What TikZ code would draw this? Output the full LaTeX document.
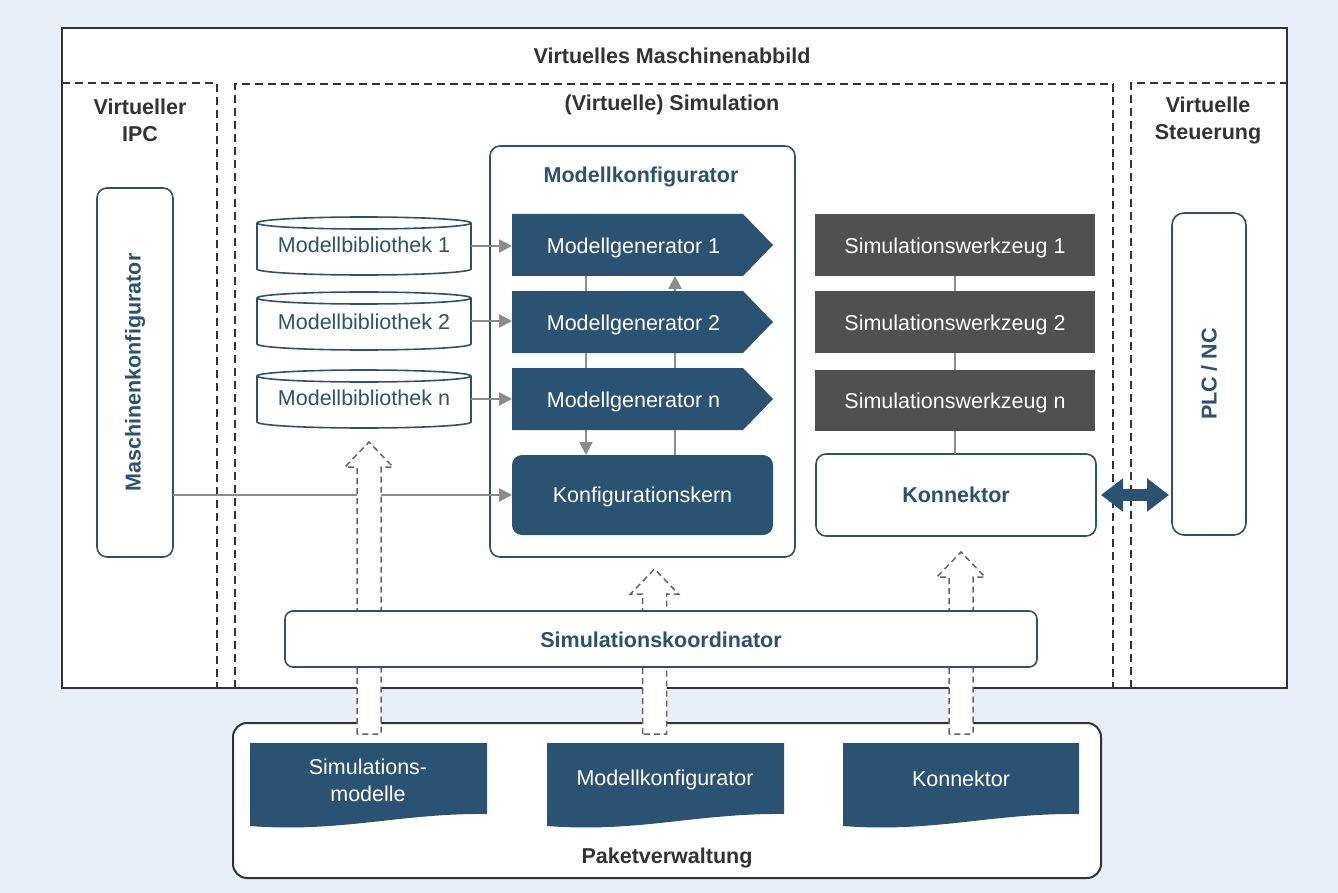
\documentclass[tikz,border=0pt]{standalone}
\usepackage{fontspec}
\setmainfont{Liberation Sans}
\usetikzlibrary{arrows.meta,calc}
\definecolor{dblue}{RGB}{42,82,115}
\definecolor{bgblue}{RGB}{232,239,249}
\definecolor{dgray}{RGB}{51,51,51}
\definecolor{boxgray}{RGB}{80,80,80}
\definecolor{lgray}{RGB}{140,140,140}
\definecolor{dashgray}{RGB}{100,100,100}
\newcommand{\harrowat}[3]{\draw[harrow] ({#1-12},#3) -- ({#1-12},{#2+25}) -- ({#1-24},{#2+25}) -- (#1,#2) -- ({#1+24},{#2+25}) -- ({#1+12},{#2+25}) -- ({#1+12},#3) -- cycle;}
\newcommand{\docshape}[2]{\fill[dblue] (#1,743) -- (#2,743) -- (#2,814) .. controls ({#2-87},813) and ({#1+90},833) .. (#1,826) -- cycle;}
\newcommand{\cylshape}[1]{%
  \draw[draw=dblue, line width=1.6pt, fill=white]
    ($(#1.north west)+(0,6)$) -- ($(#1.south west)+(0,-6)$)
    arc[start angle=180, end angle=0, x radius=107, y radius=6]
    -- ($(#1.north east)+(0,6)$)
    arc[start angle=0, end angle=-180, x radius=107, y radius=6] -- cycle;
  \draw[draw=dblue, line width=1.6pt] ($(#1.north west)+(0,6)$)
    arc[start angle=180, end angle=0, x radius=107, y radius=6];}
\newcommand{\genshape}[1]{\fill[dblue] (#1.north west) -- ($(#1.north west)+(231,0)$) -- ($(#1.west)+(261,0)$) -- ($(#1.south west)+(231,0)$) -- (#1.south west) -- cycle;}
\begin{document}
\begin{tikzpicture}[x=1pt,y=-1pt,
  every node/.style={inner sep=0pt, outer sep=0pt, font=\fontsize{21.5}{27}\selectfont},
  sect/.style={draw=dgray, line width=2pt, dash pattern=on 8pt off 5pt},
  ttl/.style={text=dgray, font=\fontsize{21.5}{27}\selectfont\bfseries, align=center},
  btxt/.style={text=dblue, font=\fontsize{21.5}{27}\selectfont\bfseries},
  bluebox/.style={draw=dblue, line width=1.6pt, fill=white, rounded corners=10pt},
  genbox/.style={minimum width=243pt, minimum height=62pt, text=white},
  toolbox/.style={fill=boxgray, minimum width=280pt, minimum height=62pt},
  libnode/.style={minimum width=214pt, minimum height=58pt, text=dblue},
  conn/.style={draw=lgray, line width=2.2pt},
  carrow/.style={conn, -{Triangle[length=13pt,width=13pt]}},
  harrow/.style={draw=dashgray, line width=1.5pt, dash pattern=on 6pt off 4pt, fill=white},
  doctext/.style={text=white, align=center}
]
\useasboundingbox (0,0) rectangle (1338,893);
\fill[bgblue] (0,0) rectangle (1338,893);
% outer frame
\draw[draw=dgray, line width=2.5pt, fill=white] (62,28) rectangle (1287,688);
\node[ttl] (tmain) at (672,56) {Virtuelles Maschinenabbild};
% sections
\draw[sect] (62,83) -- (217,83) -- (217,688);
\draw[sect] (235,688) -- (235,84) -- (1113,84) -- (1113,688);
\draw[sect] (1131,688) -- (1131,83) -- (1287,83);
\node[ttl] (tipc) at (140,120.5) {Virtueller\\IPC};
\node[ttl] (tsim) at (672,105) {(Virtuelle) Simulation};
\node[ttl] (tst) at (1208,120.5) {Virtuelle\\Steuerung};
% package box
\node[draw=dgray, line width=2pt, fill=white, rounded corners=14pt, minimum width=868pt, minimum height=155pt] (paket) at (667,800.5) {};
\node[ttl] (tpaket) at (667,858) {Paketverwaltung};
% Maschinenkonfigurator
\node[bluebox, minimum width=76pt, minimum height=369pt] (mk) at (135,372.5) {};
\node[btxt, rotate=90] (mktext) at (mk.center) {Maschinenkonfigurator};
% PLC
\node[bluebox, rounded corners=12pt, minimum width=74pt, minimum height=322pt] (plc) at (1209,374) {};
\node[btxt, rotate=90] (plctext) at (plc.center) {PLC / NC};
% Modellkonfigurator
\node[bluebox, minimum width=305pt, minimum height=411pt] (mkonf) at (642.5,351.5) {};
\node[btxt] (mkonftitle) at (641,177) {Modellkonfigurator};
% libraries
\node[libnode] (lib1) at (364,246) {};
\node[libnode] (lib2) at (364,321) {};
\node[libnode] (libn) at (364,399) {};
\cylshape{lib1}\cylshape{lib2}\cylshape{libn}
\node[text=dblue] (lib1t) at ($(lib1.center)+(0,-1)$) {Modellbibliothek 1};
\node[text=dblue] (lib2t) at ($(lib2.center)+(0,1)$) {Modellbibliothek 2};
\node[text=dblue] (libnt) at ($(libn.center)+(0,-1)$) {Modellbibliothek n};
% generators
\node[genbox] (g1) at (633.5,245) {};
\node[genbox] (g2) at (633.5,322) {};
\node[genbox] (gn) at (633.5,399) {};
\genshape{g1}\genshape{g2}\genshape{gn}
\node[text=white] (g1t) at ($(g1.center)+(0,2.5)$) {Modellgenerator 1};
\node[text=white] (g2t) at ($(g2.center)+(0,2.5)$) {Modellgenerator 2};
\node[text=white] (gnt) at ($(gn.center)+(0,2.5)$) {Modellgenerator n};
\node[fill=dblue, rounded corners=10pt, minimum width=261pt, minimum height=80pt] (kern) at (642.5,495) {};
\node[text=white] (kernt) at ($(kern.center)+(0,1.5)$) {Konfigurationskern};
% tools
\node[toolbox] (w1) at (955,245) {};
\node[toolbox] (w2) at (955,322) {};
\node[toolbox, minimum height=61pt] (wn) at (955,400) {};
\node[text=white] (w1t) at ($(w1.center)+(0,2.5)$) {Simulationswerkzeug 1};
\node[text=white] (w2t) at ($(w2.center)+(0,2.5)$) {Simulationswerkzeug 2};
\node[text=white] (wnt) at ($(wn.center)+(0,2.5)$) {Simulationswerkzeug n};
\node[bluebox, minimum width=280pt, minimum height=82pt] (kon) at (956,495) {};
\node[btxt] (kontext) at (kon.center) {Konnektor};
% connectors
\draw[carrow] (lib1.east) -- (lib1.east -| g1.west);
\draw[carrow] (lib2.east) -- (lib2.east -| g2.west);
\draw[carrow] (libn.east) -- (libn.east -| gn.west);
\draw[conn] ($(g1.south west)+(74,0)$) -- ($(g2.north west)+(74,0)$);
\draw[conn] ($(g2.south west)+(74,0)$) -- ($(gn.north west)+(74,0)$);
\draw[carrow] ($(gn.south west)+(74,0)$) -- ($(kern.north west)+(74,0)$);
\draw[conn] ($(kern.north west)+(163,0)$) -- ($(gn.south west)+(163,0)$);
\draw[conn] ($(gn.north west)+(163,0)$) -- ($(g2.south west)+(163,0)$);
\draw[carrow] ($(g2.north west)+(163,0)$) -- ($(g1.south west)+(163,0)$);
\draw[conn] (w1.south) -- (w2.north);
\draw[conn] (w2.south) -- (wn.north);
\draw[conn] (wn.south) -- (wn.south |- kon.north);
\draw[carrow] (kern.west -| mk.east) -- (kern.west);
% hollow arrows
\harrowat{369}{442}{734}
\harrowat{654.5}{569}{734}
\harrowat{961}{552}{734}
% coordinator
\node[bluebox, rounded corners=8pt, minimum width=752pt, minimum height=56pt] (koord) at (661,639) {};
\node[btxt] (koordtext) at ($(koord.center)+(0,1)$) {Simulationskoordinator};
% documents
\docshape{250}{487}
\docshape{547}{784}
\docshape{843}{1079}
\node[doctext] (d1) at (368,780) {Simulations-\\modelle};
\node[doctext] (d2) at (665,780) {Modellkonfigurator};
\node[doctext] (d3) at (961,779) {Konnektor};
% double arrow
\draw[dblue, line width=12pt, {Triangle[length=22pt,width=32pt]}-{Triangle[length=22pt,width=32pt]}, shorten <=5pt, shorten >=3pt] (kon.east) -- (kon.east -| plc.west);
\end{tikzpicture}
\end{document}
